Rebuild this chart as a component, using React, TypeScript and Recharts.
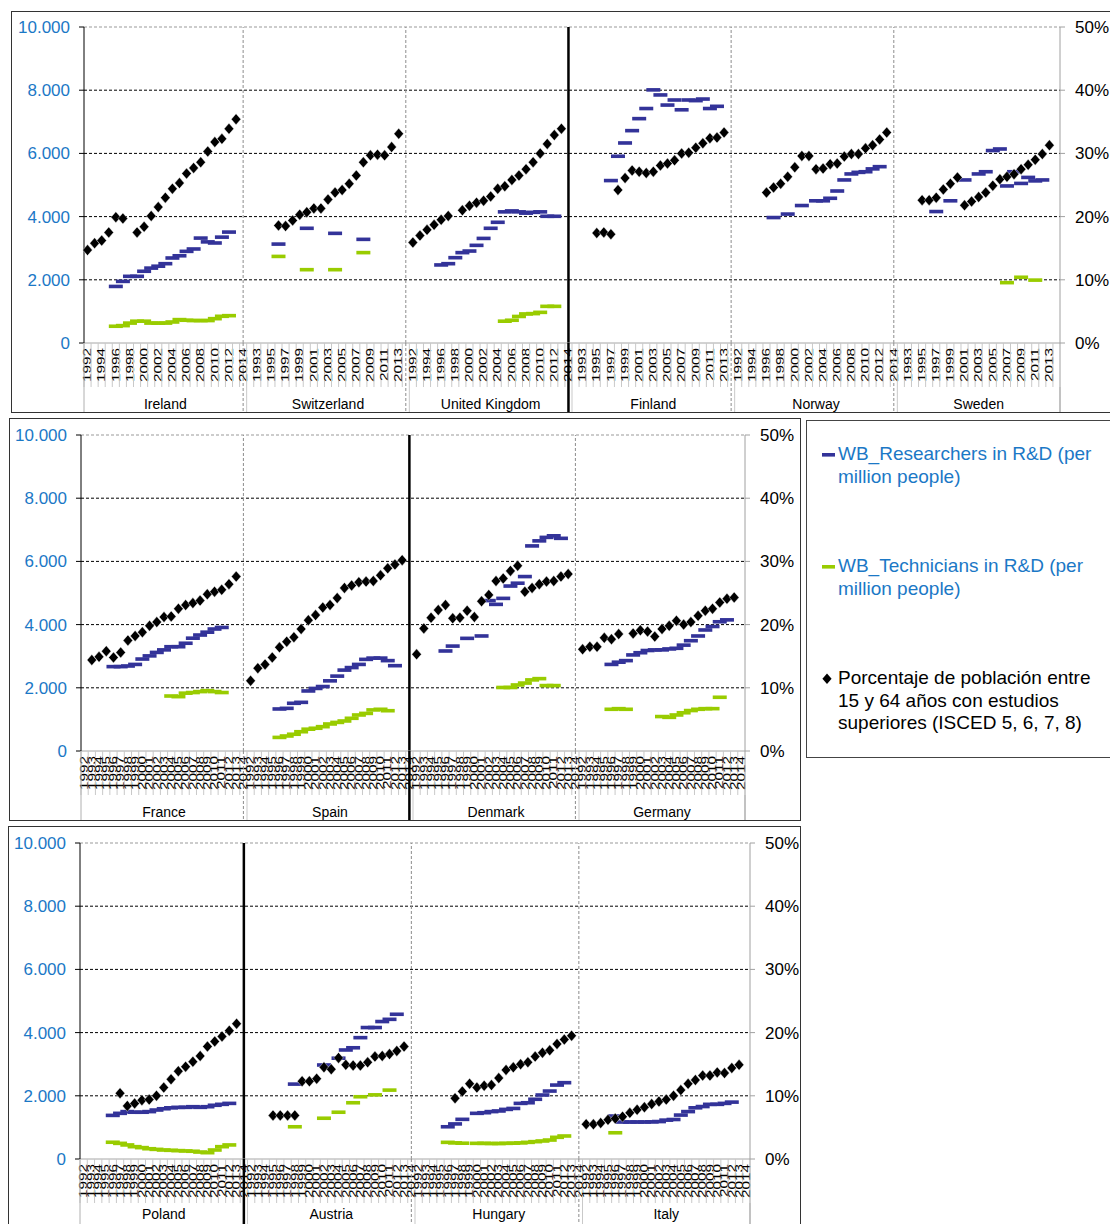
import { ComposedChart, Line, XAxis, YAxis, ReferenceLine } from 'recharts';

const _ = null;
const FONT = '"Liberation Sans", Arial, sans-serif';
const BLUE_TXT = '#1b78c6';
const RES_COLOR = '#333399';
const TECH_COLOR = '#99cc00';

const YEARS = [1992, 1993, 1994, 1995, 1996, 1997, 1998, 1999, 2000, 2001, 2002, 2003, 2004, 2005, 2006, 2007, 2008, 2009, 2010, 2011, 2012, 2013, 2014];
const LEFT_TICKS = [0, 2000, 4000, 6000, 8000, 10000];
const RIGHT_TICKS = [0, 10, 20, 30, 40, 50];
const GRID_VALUES = [2000, 4000, 6000, 8000];

// every series is aligned to YEARS (1992..2014); null = no data
const irelandPct = [14.7, 15.8, 16.2, 17.5, 19.9, 19.7, _, 17.5, 18.4, 20.1, 21.5, 23.0, 24.4, 25.3, 26.8, 27.7, 28.6, 30.3, 31.8, 32.3, 33.9, 35.4, _];
const irelandRes = [_, _, _, _, 1790, 1950, 2110, 2110, 2270, 2370, 2430, 2510, 2690, 2760, 2900, 2975, 3320, 3200, 3165, 3350, 3510, _, _];
const irelandTech = [_, _, _, _, 530, 550, 630, 690, 690, 630, 630, 630, 665, 740, 720, 710, 710, 710, 770, 845, 865, _, _];

const swissPct = [_, _, _, _, 18.6, 18.5, 19.4, 20.3, 20.7, 21.3, 21.3, 22.7, 23.8, 24.2, 25.2, 26.5, 28.6, 29.7, 29.8, 29.7, 31.0, 33.1, _];
const swissRes = [_, _, _, _, 3130, _, _, _, 3630, _, _, _, 3470, _, _, _, 3280, _, _, _, _, _, _];
const swissTech = [_, _, _, _, 2740, _, _, _, 2320, _, _, _, 2320, _, _, _, 2860, _, _, _, _, _, _];

const ukPct = [15.9, 17.0, 17.9, 18.7, 19.5, 20.1, _, 21.0, 21.7, 22.2, 22.5, 23.2, 24.4, 24.8, 25.8, 26.5, 27.5, 28.6, 30.0, 31.5, 32.9, 33.9, _];
const ukRes = [_, _, _, _, 2470, 2510, 2700, 2860, 2910, 3090, 3310, 3630, 3820, 4150, 4180, 4150, 4110, 4135, 4150, 4010, 4010, _, _];
const ukTech = [_, _, _, _, _, _, _, _, _, _, _, _, _, 690, 720, 840, 920, 930, 970, 1160, 1160, _, _];

const finlandPct = [_, _, _, 17.4, 17.5, 17.2, 24.2, 26.1, 27.3, 27.1, 26.9, 27.1, 28.1, 28.4, 28.9, 30.0, 30.1, 30.9, 31.6, 32.4, 32.5, 33.3, _];
const finlandRes = [_, _, _, _, _, 5140, 5910, 6330, 6720, 7100, 7420, 8010, 7850, 7530, 7690, 7380, 7690, 7670, 7720, 7420, 7490, _, _];
const finlandTech = [_, _, _, _, _, _, _, _, _, _, _, _, _, _, _, _, _, _, _, _, _, _, _];

const norwayPct = [_, _, _, _, 23.8, 24.6, 25.2, 26.3, 27.8, 29.6, 29.6, 27.5, 27.6, 28.3, 28.4, 29.5, 29.9, 29.9, 30.8, 31.3, 32.2, 33.3, _];
const norwayRes = [_, _, _, _, _, 3970, _, 4080, _, 4350, _, 4500, 4500, 4580, 4810, 5160, 5350, 5400, 5420, 5510, 5580, _, _];
const norwayTech = [_, _, _, _, _, _, _, _, _, _, _, _, _, _, _, _, _, _, _, _, _, _, _];

const swedenPct = [_, _, _, 22.6, 22.6, 23.0, 24.3, 25.2, 26.2, 21.8, 22.4, 23.1, 23.8, 24.9, 25.9, 26.3, 26.7, 27.5, 28.2, 29.0, 29.9, 31.3, _];
const swedenRes = [_, _, _, _, _, 4160, _, 4500, _, 5160, _, 5350, 5420, 6090, 6140, 4970, 5420, 5050, 5240, 5130, 5160, _, _];
const swedenTech = [_, _, _, _, _, _, _, _, _, _, _, _, _, _, _, 1910, _, 2080, _, 1990, _, _, _];

const francePct = [_, 14.4, 14.9, 15.8, 14.8, 15.6, 17.5, 18.2, 18.8, 19.8, 20.4, 21.2, 21.3, 22.5, 23.1, 23.4, 23.8, 24.8, 25.2, 25.5, 26.4, 27.6, _];
const franceRes = [_, _, _, _, 2670, 2670, 2690, 2740, 2910, 3010, 3120, 3200, 3300, 3300, 3410, 3570, 3670, 3760, 3860, 3910, _, _, _];
const franceTech = [_, _, _, _, _, _, _, _, _, _, _, _, 1740, 1720, 1830, 1850, 1880, 1910, 1880, 1850, _, _, _];

const spainPct = [11.1, 13.1, 13.7, 14.8, 16.4, 17.3, 18.0, 19.3, 20.7, 21.5, 22.7, 23.1, 24.2, 25.8, 26.2, 26.7, 26.8, 26.9, 27.8, 28.9, 29.5, 30.2, _];
const spainRes = [_, _, _, _, 1330, 1350, 1510, 1540, 1900, 1980, 2040, 2220, 2370, 2560, 2640, 2740, 2900, 2940, 2940, 2860, 2700, _, _];
const spainTech = [_, _, _, _, 430, 475, 530, 610, 690, 720, 770, 855, 905, 950, 1035, 1140, 1190, 1300, 1320, 1275, _, _, _];

const denmarkPct = [15.3, 19.4, 21.1, 22.3, 23.1, 21.0, 21.1, 22.2, 21.2, 23.7, 24.7, 26.9, 27.3, 28.5, 29.3, 25.2, 25.8, 26.4, 26.8, 26.9, 27.6, 28.0, _];
const denmarkRes = [_, _, _, _, 3165, 3320, _, 3565, _, 3640, 4760, 4640, 4830, 5220, 5310, 5520, 6490, 6650, 6760, 6810, 6730, _, _];
const denmarkTech = [_, _, _, _, _, _, _, _, _, _, _, _, 2010, 2010, 2090, 2150, 2250, 2290, 2070, 2070, _, _, _];

const germanyPct = [16.1, 16.5, 16.5, 17.9, 17.7, 18.5, _, 18.6, 19.1, 18.9, 18.1, 19.3, 19.8, 20.6, 20.0, 20.4, 21.4, 22.2, 22.5, 23.5, 24.1, 24.3, _];
const germanyRes = [_, _, _, _, 2740, 2810, 2860, 3040, 3110, 3180, 3200, 3200, 3230, 3250, 3350, 3490, 3640, 3830, 3940, 4090, 4150, _, _];
const germanyTech = [_, _, _, _, 1320, 1340, 1320, _, _, _, _, 1090, 1065, 1140, 1210, 1280, 1320, 1340, 1340, 1700, _, _, _];

const polandPct = [_, _, _, _, _, 10.4, 8.4, 8.8, 9.3, 9.4, 10.0, 11.3, 12.6, 13.9, 14.6, 15.4, 16.3, 17.8, 18.6, 19.4, 20.3, 21.4, _];
const polandRes = [_, _, _, _, 1380, 1445, 1500, 1480, 1480, 1500, 1550, 1590, 1620, 1635, 1635, 1655, 1635, 1655, 1700, 1730, 1760, _, _];
const polandTech = [_, _, _, _, 530, 495, 445, 390, 360, 325, 305, 285, 275, 265, 255, 245, 220, 200, 285, 390, 445, _, _];

const austriaPct = [_, _, _, 6.9, 6.9, 6.9, 6.9, 12.3, 12.3, 12.7, 14.5, 14.2, 16.0, 14.9, 14.8, 14.8, 15.3, 16.2, 16.3, 16.6, 17.1, 17.8, _];
const austriaRes = [_, _, _, _, _, _, 2370, _, _, _, 2975, _, 3190, 3450, 3520, 3840, 4160, 4160, 4350, 4420, 4580, _, _];
const austriaTech = [_, _, _, _, _, _, 1020, _, _, _, 1290, _, 1480, _, 1780, 1970, _, 2030, _, 2180, _, _, _];

const hungaryPct = [_, _, _, _, _, 9.6, 10.7, 11.9, 11.3, 11.6, 11.7, 12.8, 14.1, 14.5, 15.0, 15.3, 16.2, 16.8, 17.2, 18.2, 18.9, 19.5, _];
const hungaryRes = [_, _, _, _, 1020, 1110, 1255, _, 1445, 1465, 1500, 1520, 1570, 1600, 1760, 1780, 1890, 2025, 2150, 2340, 2415, _, _];
const hungaryTech = [_, _, _, _, 527, 510, 500, _, 496, 496, 490, 490, 496, 500, 510, 527, 549, 570, 600, 686, 728, _, _];

const italyPct = [5.5, 5.5, 5.7, 6.2, 6.4, 6.7, 7.3, 7.8, 8.2, 8.7, 9.1, 9.4, 10.0, 10.9, 11.9, 12.5, 13.2, 13.2, 13.7, 13.6, 14.4, 14.9, _];
const italyRes = [_, _, _, _, 1360, 1170, 1170, 1170, 1170, 1175, 1185, 1230, 1250, 1390, 1500, 1620, 1660, 1730, 1730, 1760, 1800, _, _];
const italyTech = [_, _, _, _, 830, _, _, _, _, _, _, _, _, _, _, _, _, _, _, _, _, _, _];

type Series = (number | null)[];
interface Country { name: string; pct: Series; res: Series; tech: Series }

const panel1: Country[] = [
  { name: 'Ireland', pct: irelandPct, res: irelandRes, tech: irelandTech },
  { name: 'Switzerland', pct: swissPct, res: swissRes, tech: swissTech },
  { name: 'United Kingdom', pct: ukPct, res: ukRes, tech: ukTech },
  { name: 'Finland', pct: finlandPct, res: finlandRes, tech: finlandTech },
  { name: 'Norway', pct: norwayPct, res: norwayRes, tech: norwayTech },
  { name: 'Sweden', pct: swedenPct, res: swedenRes, tech: swedenTech },
];
const panel2: Country[] = [
  { name: 'France', pct: francePct, res: franceRes, tech: franceTech },
  { name: 'Spain', pct: spainPct, res: spainRes, tech: spainTech },
  { name: 'Denmark', pct: denmarkPct, res: denmarkRes, tech: denmarkTech },
  { name: 'Germany', pct: germanyPct, res: germanyRes, tech: germanyTech },
];
const panel3: Country[] = [
  { name: 'Poland', pct: polandPct, res: polandRes, tech: polandTech },
  { name: 'Austria', pct: austriaPct, res: austriaRes, tech: austriaTech },
  { name: 'Hungary', pct: hungaryPct, res: hungaryRes, tech: hungaryTech },
  { name: 'Italy', pct: italyPct, res: italyRes, tech: italyTech },
];

const buildRows = (countries: Country[]) =>
  countries.flatMap((c) =>
    YEARS.map((y, i) => ({ key: `${c.name}|${y}`, res: c.res[i], tech: c.tech[i], pct: c.pct[i] }))
  );

const fmtThousands = (v: number) => String(v).replace(/\B(?=(\d{3})+(?!\d))/g, '.');

const dashDot = (color: string, key: string) => (p: any) => {
  const v = p.payload ? p.payload[key] : p.value;
  if (v == null || p.cy == null || Number.isNaN(p.cy)) return <g key={`${key}-${p.index}`} />;
  return <rect key={`${key}-${p.index}`} x={p.cx - 7} y={p.cy - 1.8} width={14} height={3.6} fill={color} />;
};

const diamondDot = (p: any) => {
  const v = p.payload ? p.payload.pct : p.value;
  if (v == null || p.cy == null || Number.isNaN(p.cy)) return <g key={`pct-${p.index}`} />;
  const { cx, cy } = p;
  return (
    <polygon
      key={`pct-${p.index}`}
      points={`${cx},${cy - 5.5} ${cx + 4.8},${cy} ${cx},${cy + 5.5} ${cx - 4.8},${cy}`}
      fill="#000"
      stroke="#fff"
      strokeWidth={0.4}
    />
  );
};

interface PanelCfg {
  countries: Country[];
  left: number;
  top: number;
  width: number;
  height: number;
  leftW: number;
  rightW: number;
  marginTop: number;
  xH: number;
  thickAfter: number;
  step: number;
  nameDy: number;
}

const Panel = ({ countries, left, top, width, height, leftW, rightW, marginTop, xH, thickAfter, step, nameDy }: PanelCfg) => {
  const rows = buildRows(countries);
  const n = rows.length;
  const plotW = width - leftW - rightW;
  const bw = plotW / n;
  const axisY = height - xH;
  const last = countries.length - 1;

  const tick = (props: any) => {
    const { x, payload } = props;
    const idx = payload.index ?? props.index;
    const [name, ys] = String(payload.value).split('|');
    const yi = idx % 23;
    const ci = Math.floor(idx / 23);
    const out: any[] = [];
    out.push(<line key="g" x1={x - bw / 2} x2={x - bw / 2} y1={axisY} y2={axisY + 44} stroke="#c9c9c9" />);
    if (idx % step === 0) {
      out.push(
        <text
          key="y"
          transform={`translate(${x},${axisY + 5}) rotate(-90) scale(1.02,0.74)`}
          textAnchor="end"
          dominantBaseline="central"
          fontSize={15}
          fontFamily={FONT}
          fill="#000"
        >
          {ys}
        </text>
      );
    }
    if (idx === 0) {
      out.push(<line key="l" x1={x - bw / 2} x2={x - bw / 2} y1={axisY} y2={height} stroke="#b0b0b0" />);
    }
    if (yi === 22) {
      out.push(<line key="b" x1={x + bw / 2} x2={x + bw / 2} y1={axisY + 44} y2={height} stroke="#c9c9c9" />);
      if (ci === last) {
        out.push(<line key="r" x1={x + bw / 2} x2={x + bw / 2} y1={axisY} y2={height} stroke="#a0a0a0" />);
      } else if (ci === thickAfter) {
        out.push(<line key="s" x1={x} x2={x} y1={axisY} y2={height} stroke="#000" strokeWidth={2.5} />);
      } else {
        out.push(<line key="s" x1={x} x2={x} y1={axisY} y2={height} stroke="#8c8c8c" strokeDasharray="3 2" />);
      }
    }
    if (yi === 11) {
      out.push(
        <text key="c" x={x} y={axisY + nameDy} textAnchor="middle" dominantBaseline="central" fontSize={14} fontFamily={FONT} fill="#000">
          {name}
        </text>
      );
    }
    return <g>{out}</g>;
  };

  return (
    <div style={{ position: 'absolute', left, top, width, height }}>
      <ComposedChart width={width} height={height} data={rows} margin={{ top: marginTop, right: 0, bottom: 0, left: 0 }}>
        <XAxis dataKey="key" scale="band" interval={0} height={xH} axisLine={{ stroke: '#a6a6a6' }} tickLine={false} tick={tick} />
        <YAxis
          yAxisId="left"
          width={leftW}
          domain={[0, 10000]}
          ticks={LEFT_TICKS}
          tickFormatter={fmtThousands}
          axisLine={{ stroke: '#000' }}
          tickLine={{ stroke: '#000' }}
          tickSize={5}
          tickMargin={9}
          tick={{ fill: BLUE_TXT, fontSize: 17, fontFamily: FONT }}
        />
        <YAxis
          yAxisId="right"
          orientation="right"
          width={rightW}
          domain={[0, 50]}
          ticks={RIGHT_TICKS}
          tickFormatter={(v: number) => `${v}%`}
          axisLine={{ stroke: '#a0a0a0' }}
          tickLine={{ stroke: '#a0a0a0' }}
          tickSize={5}
          tickMargin={10}
          tick={{ fill: '#000', fontSize: 17, fontFamily: FONT }}
        />
        {GRID_VALUES.map((v) => (
          <ReferenceLine key={v} yAxisId="left" y={v} stroke="#000" strokeDasharray="3 2" />
        ))}
        <ReferenceLine yAxisId="left" y={10000} stroke="#999" strokeDasharray="3 2" />
        {countries.slice(0, last).map((c, i) => (
          <ReferenceLine
            key={c.name}
            yAxisId="left"
            x={`${c.name}|2014`}
            stroke={i === thickAfter ? '#000' : '#8c8c8c'}
            strokeWidth={i === thickAfter ? 2.5 : 1}
            strokeDasharray={i === thickAfter ? undefined : '3 2'}
          />
        ))}
        <Line yAxisId="left" dataKey="res" stroke="none" dot={dashDot(RES_COLOR, 'res')} activeDot={false} isAnimationActive={false} />
        <Line yAxisId="left" dataKey="tech" stroke="none" dot={dashDot(TECH_COLOR, 'tech')} activeDot={false} isAnimationActive={false} />
        <Line yAxisId="right" dataKey="pct" stroke="none" dot={diamondDot} activeDot={false} isAnimationActive={false} />
      </ComposedChart>
    </div>
  );
};

const Frame = ({ left, top, width, height }: { left: number; top: number; width: number; height: number }) => (
  <div style={{ position: 'absolute', left, top, width, height, border: '1.5px solid #333', boxSizing: 'border-box' }} />
);

const LegendBox = () => (
  <div
    style={{
      position: 'absolute',
      left: 806,
      top: 420,
      width: 330,
      height: 338,
      border: '1.5px solid #444',
      boxSizing: 'border-box',
      fontFamily: FONT,
      fontSize: 19,
      background: '#fff',
    }}
  >
    <svg style={{ position: 'absolute', left: 0, top: 0 }} width={40} height={300}>
      <rect x={15} y={32} width={13} height={3.6} fill={RES_COLOR} />
      <rect x={15} y={144} width={13} height={3.6} fill={TECH_COLOR} />
      <polygon points="20,252.5 24.6,257.7 20,262.9 15.4,257.7" fill="#000" />
    </svg>
    <div style={{ position: 'absolute', left: 31, top: 21, lineHeight: '23px', color: BLUE_TXT, whiteSpace: 'nowrap' }}>
      WB_Researchers in R&amp;D (per
      <br />
      million people)
    </div>
    <div style={{ position: 'absolute', left: 31, top: 133, lineHeight: '23px', color: BLUE_TXT, whiteSpace: 'nowrap' }}>
      WB_Technicians in R&amp;D (per
      <br />
      million people)
    </div>
    <div style={{ position: 'absolute', left: 31, top: 246, lineHeight: '22.5px', color: '#000', whiteSpace: 'nowrap' }}>
      Porcentaje de población entre
      <br />
      15 y 64 años con estudios
      <br />
      superiores (ISCED 5, 6, 7, 8)
    </div>
  </div>
);

export default function App() {
  return (
    <div style={{ position: 'absolute', left: 0, top: 0, width: 1110, height: 1224, overflow: 'hidden', background: '#fff' }}>
      <Frame left={11} top={11} width={1120} height={402} />
      <Frame left={9} top={418} width={792} height={403} />
      <Frame left={8} top={826} width={793} height={410} />
      <Panel countries={panel1} left={11} top={11} width={1099} height={401} leftW={73} rightW={50} marginTop={16} xH={69} thickAfter={2} step={2} nameDy={61} />
      <Panel countries={panel2} left={9} top={418} width={791} height={402} leftW={72} rightW={55} marginTop={17} xH={69} thickAfter={1} step={1} nameDy={61} />
      <Panel countries={panel3} left={8} top={826} width={792} height={398} leftW={72} rightW={50} marginTop={17} xH={65} thickAfter={0} step={1} nameDy={55} />
      <LegendBox />
    </div>
  );
}
